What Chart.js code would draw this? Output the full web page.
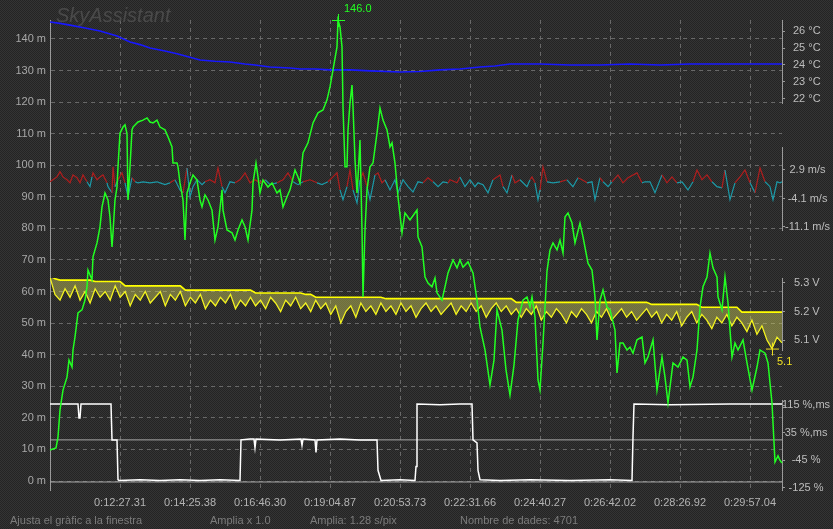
<!DOCTYPE html>
<html lang="ca">
<head>
<meta charset="utf-8">
<title>SkyAssistant</title>
<script src="https://cdn.jsdelivr.net/npm/chart.js@4.4.1/dist/chart.umd.min.js"></script>
<style>
  html, body { margin: 0; padding: 0; }
  body {
    width: 833px; height: 529px; overflow: hidden;
    background: repeating-conic-gradient(#343434 0 25%, #242424 0 50%) 0 0 / 2px 2px;
    font-family: 'Liberation Sans', Arial, sans-serif;
  }
  #marc { position: relative; width: 833px; height: 529px; }
  #grafica { position: absolute; left: 0; top: 0; }
  .marca { position: absolute; left: 56px; top: 5px; font-size: 20px; line-height: 20px; font-style: italic; color: #4a4a4a; }
  .estat { position: absolute; top: 514px; font-size: 11px; line-height: 13px; color: #7c7c7c; white-space: nowrap; }
</style>
</head>
<body>
<div id="marc">
  <canvas id="grafica" width="833" height="529"></canvas>
  <div class="marca">SkyAssistant</div>
  <div class="estat" style="left:10px">Ajusta el gràfic a la finestra</div>
  <div class="estat" style="left:210px">Amplia x 1.0</div>
  <div class="estat" style="left:310px">Amplia: 1.28 s/pix</div>
  <div class="estat" style="left:460px">Nombre de dades: 4701</div>
</div>
<script>
// 游댳 Eix X: columna de temps (0..732) i hores mostrades
const columnesHora = [70, 140, 210, 280, 350, 420, 490, 560, 630, 700];
const horaEtiquetes = ['0:12:27.31', '0:14:25.38', '0:16:46.30', '0:19:04.87', '0:20:53.73',
                       '0:22:31.66', '0:24:40.27', '0:26:42.02', '0:28:26.92', '0:29:57.04'];

// 游댳 Altitud (m) - verd
const altCols = [0, 6, 8, 10, 13, 17, 19, 22, 23, 25, 28, 32, 35, 37, 38, 42, 43, 47, 50, 52, 55, 58, 60, 62, 63, 65, 67, 68, 70, 73,
  75, 77, 78, 80, 82, 83, 88, 93, 97, 100, 103, 107, 110, 115, 118, 122, 123, 127, 128, 130, 133, 135, 137, 140, 143, 147, 150, 152, 155, 158,
  162, 165, 168, 172, 173, 177, 182, 185, 188, 192, 195, 198, 202, 203, 206, 208, 210, 213, 218, 222, 227, 230, 233, 237, 240, 245, 248, 250, 253, 258,
  263, 268, 273, 277, 280, 283, 287, 288, 290, 292, 293, 295, 297, 298, 300, 302, 303, 305, 307, 308, 310, 312, 313, 315, 317, 320, 323, 327, 330, 333,
  337, 340, 342, 345, 348, 352, 355, 360, 367, 368, 372, 375, 378, 382, 385, 387, 392, 395, 398, 403, 407, 410, 413, 418, 423, 427, 430, 435, 440, 444,
  447, 452, 456, 460, 464, 468, 473, 477, 480, 482, 485, 488, 490, 493, 497, 500, 503, 507, 510, 513, 515, 518, 522, 525, 530, 533, 538, 542, 545, 547,
  550, 553, 557, 560, 565, 567, 570, 573, 577, 580, 583, 587, 592, 595, 598, 603, 607, 612, 615, 618, 623, 628, 633, 637, 640, 643, 647, 650, 653, 657,
  660, 663, 667, 668, 672, 675, 678, 682, 685, 688, 693, 697, 702, 707, 710, 715, 718, 722, 725, 728, 730, 732];
const altM = [9.8, 10.5, 13.9, 22.5, 28.8, 32.9, 38.3, 36.1, 41.5, 45.6, 53.2, 54.2, 57.3, 61.5, 66.8, 63.7, 71.0, 75.4, 80.5, 86.8, 91.2, 89.0, 83.6, 74.1, 78.6, 89.0, 93.1, 99.5, 110.2, 112.1,
  112.8, 110.0, 89.0, 99.5, 111.2, 112.1, 113.7, 114.3, 115.0, 113.7, 113.4, 114.3, 112.1, 111.2, 109.0, 105.8, 100.7, 100.7, 99.5, 94.4, 89.0, 76.3, 91.2, 94.4, 96.9, 95.3, 89.0, 86.8, 90.6, 89.0,
  85.8, 76.3, 80.5, 92.2, 85.8, 79.5, 78.6, 76.3, 79.5, 82.7, 80.5, 76.3, 85.8, 94.4, 100.7, 96.3, 91.2, 95.3, 93.1, 94.4, 91.2, 92.2, 86.8, 90.0, 92.2, 98.5, 96.3, 94.4, 103.9, 107.1,
  113.4, 116.6, 117.5, 120.7, 124.8, 130.2, 137.5, 146.0, 143.8, 137.5, 118.5, 99.5, 99.5, 111.2, 119.7, 125.4, 118.5, 101.7, 91.2, 96.3, 108.0, 79.5, 58.3, 79.5, 92.2, 99.5, 100.7, 110.2, 118.1, 114.3,
  111.2, 105.8, 107.1, 100.7, 90.0, 78.6, 84.9, 82.7, 85.8, 77.3, 74.1, 64.6, 62.7, 61.5, 64.3, 59.6, 57.3, 61.5, 65.9, 70.0, 67.5, 70.0, 67.7, 69.4, 65.9, 57.3, 48.8, 41.5, 30.4, 38.3,
  54.2, 47.8, 35.2, 27.2, 36.7, 51.0, 57.3, 58.3, 55.1, 58.3, 51.9, 32.0, 28.8, 43.7, 66.5, 73.2, 75.4, 73.2, 76.3, 72.2, 83.6, 84.9, 81.7, 75.4, 81.7, 77.3, 69.0, 66.8, 58.3, 44.7,
  57.3, 60.5, 55.1, 54.2, 47.8, 34.2, 43.7, 43.7, 41.5, 42.4, 40.5, 44.7, 45.6, 37.4, 39.3, 44.7, 28.8, 39.3, 32.9, 24.7, 37.4, 36.1, 39.3, 38.3, 29.8, 32.9, 41.5, 55.1, 61.5, 64.6,
  72.2, 67.5, 64.6, 58.3, 54.2, 64.6, 56.4, 39.3, 43.7, 41.5, 44.7, 37.4, 28.8, 36.1, 41.5, 40.5, 37.4, 24.7, 6.0, 8.0, 6.5, 5.7];

// 游댳 Temperatura (춿C) - blau
const tempCols = [0, 10, 20, 35, 50, 67, 80, 90, 100, 115, 128, 140, 150, 165, 180, 195, 205, 220, 240, 250,
  265, 280, 300, 320, 350, 370, 390, 410, 430, 445, 460, 490, 520, 550, 580, 610, 640, 670, 700, 732];
const tempC = [26.53, 26.45, 26.35, 26.18, 26.0, 25.71, 25.35, 25.2, 25.0, 24.82, 24.65, 24.45, 24.29, 24.22, 24.18, 24.06, 24.0, 23.88, 23.82, 23.76,
  23.76, 23.71, 23.71, 23.65, 23.59, 23.62, 23.71, 23.76, 23.88, 23.94, 24.06, 24.06, 24.0, 24.0, 24.06, 24.0, 24.06, 24.06, 24.06, 24.06];

// 游댳 Vent vertical (m/s) - vermell / cian
const ventCols = [0, 7, 10, 13, 17, 20, 23, 27, 30, 33, 37, 40, 42, 43, 47, 50, 53, 57, 58, 62, 63, 65, 68, 72, 75, 78, 82, 85, 88, 93,
  100, 107, 110, 115, 120, 125, 130, 133, 137, 140, 143, 147, 152, 155, 160, 165, 168, 172, 175, 180, 185, 190, 195, 200, 205, 210, 215, 220, 227, 233,
  238, 243, 248, 253, 260, 267, 272, 278, 283, 287, 290, 293, 297, 300, 303, 307, 310, 313, 317, 320, 325, 328, 332, 335, 340, 345, 348, 353, 358, 363,
  368, 373, 378, 383, 388, 393, 398, 400, 407, 410, 415, 420, 425, 428, 433, 438, 443, 450, 453, 457, 462, 465, 470, 477, 480, 482, 485, 488, 490, 493,
  497, 503, 510, 517, 523, 528, 532, 537, 542, 545, 550, 553, 558, 562, 568, 573, 578, 587, 592, 595, 600, 605, 612, 617, 622, 627, 632, 638, 643, 647,
  652, 657, 662, 667, 672, 675, 680, 685, 690, 695, 700, 705, 710, 715, 720, 723, 727, 730, 732];
const ventMs = [0, 1.2, 2.5, 1.2, 0.5, -0.25, 1.7, 1.0, -0.25, 1.7, 0, -1.2, 1.2, 2.2, 0.5, 1.2, 1.7, -0.25, -1.2, -2.7, 3.7, -1.2, 0.5, 2.2, -0.25, -3.7, 1.0, 0, -0.25, 0,
  -0.25, 0, -0.25, -0.7, -0.25, 0.5, -2.0, -2.7, 3.4, -3.7, -1.2, 0.5, -0.7, 0, 0.5, -0.25, 3.4, -1.2, -2.7, 0, -0.25, 0.5, 2.2, -0.25, 0.5, -0.25, 0.5, -0.7, -0.25, 0.5,
  2.2, 0, -0.7, 0, 0.5, -0.25, -0.7, 0, 1.2, 2.2, -2.0, -4.4, -1.2, 2.9, -2.0, -5.2, 0.5, 2.2, -1.2, -4.4, 1.7, 2.2, -0.25, 0.5, -2.0, 0.5, -2.7, 0.5, -1.2, -2.5,
  0, -0.25, 1.0, 0, -1.2, 0, -0.25, 0.5, -0.25, 1.2, -1.2, 0.5, -1.2, -0.25, -0.7, -2.7, 0.5, 1.7, -1.2, -2.7, 1.7, -0.25, 0.5, -1.2, 0.5, 1.2, -0.25, -4.4, -2.0, 3.7,
  0, -0.25, 0, 0.5, -1.2, 1.0, 0.5, -0.25, 0, -4.4, 1.0, 0, -1.2, 0, 1.7, -0.25, 1.0, 2.2, -0.25, 0, 0, -2.7, 1.7, -0.25, 1.2, -0.25, 0, -2.0, 0, 2.9,
  0.5, 1.7, 0, -1.2, -1.5, 2.9, -4.4, -0.25, 1.2, 2.9, -0.25, -2.7, 3.4, 0, -1.2, -4.4, 0, -0.25, 0];

// 游댳 Tensi칩 (V) - groc: m맞im i m칤nim de cada tram
const voltMax = [5.325, 5.315, 5.31, 5.31, 5.31, 5.31, 5.31, 5.31, 5.31, 5.305, 5.305, 5.305, 5.305, 5.305, 5.305,
  5.29, 5.29, 5.29, 5.29, 5.29, 5.29, 5.29, 5.29, 5.29, 5.29, 5.29, 5.29,
  5.275, 5.275, 5.275, 5.275, 5.275, 5.275, 5.275, 5.275, 5.275, 5.275, 5.275, 5.275, 5.275, 5.275,
  5.265, 5.265, 5.265, 5.265, 5.265, 5.265, 5.265, 5.265, 5.265, 5.265, 5.26, 5.26,
  5.25, 5.25, 5.25, 5.25, 5.25, 5.25, 5.25, 5.25, 5.25, 5.25, 5.25, 5.25, 5.25, 5.25,
  5.245, 5.245, 5.245, 5.245, 5.245, 5.245, 5.245, 5.245, 5.245, 5.245, 5.245, 5.245, 5.245, 5.245, 5.245, 5.245, 5.245, 5.245, 5.245, 5.245, 5.245, 5.245, 5.245, 5.245, 5.245, 5.245,
  5.232, 5.232, 5.232, 5.232, 5.232, 5.232, 5.232, 5.232, 5.232, 5.232, 5.232, 5.232, 5.232, 5.232, 5.232, 5.232, 5.232, 5.232, 5.232, 5.232, 5.232, 5.232, 5.232, 5.232, 5.232, 5.232, 5.232,
  5.225, 5.225, 5.225, 5.225, 5.225, 5.225, 5.225, 5.225, 5.225, 5.225,
  5.215, 5.215, 5.215, 5.215, 5.215, 5.215, 5.215, 5.215,
  5.198, 5.198, 5.198, 5.198, 5.198, 5.198, 5.198, 5.198, 5.198];
const voltMin = [5.32, 5.26, 5.24, 5.28, 5.25, 5.29, 5.24, 5.27, 5.23, 5.28, 5.25, 5.27, 5.24, 5.29, 5.25,
  5.27, 5.22, 5.26, 5.24, 5.27, 5.23, 5.25, 5.27, 5.22, 5.26, 5.24, 5.27,
  5.22, 5.25, 5.23, 5.26, 5.21, 5.24, 5.22, 5.25, 5.23, 5.26, 5.21, 5.24, 5.22, 5.25,
  5.22, 5.24, 5.21, 5.25, 5.23, 5.20, 5.24, 5.22, 5.25, 5.21, 5.23, 5.20,
  5.24, 5.21, 5.23, 5.19, 5.22, 5.16, 5.20, 5.22, 5.18, 5.23, 5.20, 5.22, 5.19, 5.23,
  5.20, 5.22, 5.19, 5.23, 5.20, 5.22, 5.18, 5.21, 5.23, 5.20, 5.22, 5.19, 5.21, 5.23, 5.19, 5.22, 5.20, 5.23, 5.20, 5.22, 5.18, 5.21, 5.23, 5.20, 5.22, 5.19,
  5.21, 5.18, 5.21, 5.19, 5.22, 5.17, 5.20, 5.18, 5.21, 5.19, 5.16, 5.20, 5.18, 5.21, 5.19, 5.16, 5.20, 5.18, 5.21, 5.17, 5.19, 5.21, 5.18, 5.20, 5.17, 5.19, 5.21,
  5.18, 5.20, 5.16, 5.19, 5.17, 5.20, 5.15, 5.18, 5.20, 5.16,
  5.19, 5.17, 5.14, 5.18, 5.16, 5.19, 5.15, 5.18,
  5.16, 5.13, 5.17, 5.12, 5.15, 5.10, 5.07, 5.11, 5.09];

// 游댳 Gas / servo (%) - blanc
const gasCols = [0, 28, 29, 30, 31, 61, 62, 67, 68, 69, 90, 110, 130, 150, 170, 190, 191, 200, 204, 205, 206, 230, 251, 252, 253, 265, 266, 267, 290, 310,
  327, 328, 331, 350, 365, 366, 367, 390, 410, 422, 423, 427, 428, 430, 450, 480, 520, 560, 582, 583, 584, 620, 680, 732];
const gasPct = [100, 100, 82, 82, 100, 100, 54, 54, 3, 2, 3, 2, 3, 2, 3, 2, 54, 55, 55, 44, 55, 54, 55, 47, 55, 54, 38, 54, 55, 54,
  54, 15, 2, 3, 2, 20, 100, 99, 100, 100, 54, 50, 15, 3, 2, 3, 2, 3, 2, 58, 100, 99, 100, 100];
const gasLimits = [54, 0];

// 游댳 Marques dels eixos de la dreta
const tempTicks = [22, 23, 24, 25, 26];
const ventTicks = [2.9, -4.1, -11.1];
const voltTicks = [5.3, 5.2, 5.1];
const pctTicks = [115, 35, -45, -125];
const pctEtiquetes = ['115 %,ms', '35 %,ms', '-45 %', '-125 %'];
const altTicks = [0, 10, 20, 30, 40, 50, 60, 70, 80, 90, 100, 110, 120, 130, 140];

const punts = (xs, ys) => xs.map((x, i) => ({ x: x, y: ys[i] }));
const voltCols = voltMax.map((v, i) => i * 732 / (voltMax.length - 1));

Chart.defaults.font.family = "'Liberation Sans', Arial, sans-serif";
Chart.defaults.font.size = 11;

// 游댳 Creu i valor al m맞im d'altitud i al m칤nim de tensi칩
function creu(c, x, y, color) {
  c.strokeStyle = color;
  c.lineWidth = 1;
  c.beginPath();
  c.moveTo(x - 6, y + 0.5); c.lineTo(x + 7, y + 0.5);
  c.moveTo(x + 0.5, y - 6); c.lineTo(x + 0.5, y + 7);
  c.stroke();
}
const marcadors = {
  id: 'marcadors',
  afterDatasetsDraw(chart) {
    const c = chart.ctx;
    c.save();
    c.font = "11px 'Liberation Sans', Arial, sans-serif";
    c.textAlign = 'left';
    c.textBaseline = 'middle';
    const iMax = altM.indexOf(Math.max(...altM));
    const pA = chart.getDatasetMeta(0).data[iMax];
    creu(c, pA.x, pA.y, '#22ff22');
    c.fillStyle = '#22ff22';
    c.fillText(altM[iMax].toFixed(1), pA.x + 6, pA.y - 11);
    const iMin = voltMin.indexOf(Math.min(...voltMin));
    const pV = chart.getDatasetMeta(5).data[iMin];
    creu(c, pV.x, pV.y, '#f0e020');
    c.fillStyle = '#f0e020';
    c.fillText(voltMin[iMin].toFixed(1), pV.x + 5, pV.y + 13);
    c.restore();
  }
};

function eixDret(pes, min, max, valors, etiqueta, padding) {
  return {
    type: 'linear', position: 'right', stack: 'dreta', stackWeight: pes, min: min, max: max,
    afterBuildTicks: s => { s.ticks = valors.map(v => ({ value: v })); },
    afterFit: s => { s.width = 51; },
    ticks: { color: '#bdbdbd', padding: padding, crossAlign: 'center', autoSkip: false,
             callback: (v, i) => etiqueta(v, i) },
    grid: { drawOnChartArea: false, drawTicks: true, tickLength: 3, color: '#9a9a9a' },
    border: { color: '#9a9a9a' }
  };
}
function espai(pes) {
  return {
    type: 'linear', position: 'right', stack: 'dreta', stackWeight: pes,
    ticks: { display: false }, grid: { display: false, drawTicks: false }, border: { display: false }
  };
}

const linia = { pointRadius: 0, tension: 0, fill: false };

const ctx = document.getElementById('grafica').getContext('2d');
const grafica = new Chart(ctx, {
  type: 'line',
  data: {
    datasets: [
      { ...linia, label: 'Altitud', data: punts(altCols, altM), yAxisID: 'yAlt', borderColor: '#22ff22', borderWidth: 1.5, clip: 4 },
      { ...linia, label: 'Gas', data: punts(gasCols, gasPct), yAxisID: 'yGas', borderColor: '#ffffff', borderWidth: 1.5 },
      ...gasLimits.map(v => ({ ...linia, label: 'L' + v, data: [{ x: 0, y: v }, { x: 732, y: v }], yAxisID: 'yGas', borderColor: '#a8a8a8', borderWidth: 1 })),
      { ...linia, label: 'Vmax', data: punts(voltCols, voltMax), yAxisID: 'yVolt', borderColor: '#ffff00', borderWidth: 1.6,
        fill: '+1', backgroundColor: 'rgba(205,205,90,0.45)' },
      { ...linia, label: 'Vmin', data: punts(voltCols, voltMin), yAxisID: 'yVolt', borderColor: '#ffff10', borderWidth: 1.3 },
      { ...linia, label: 'Vent', data: punts(ventCols, ventMs), yAxisID: 'yVent', borderWidth: 1.2, borderColor: '#1c9aa8',
        segment: { borderColor: s => (s.p0.parsed.y + s.p1.parsed.y) / 2 > 0 ? '#b01e1e' : '#1c9aa8' } },
      { ...linia, label: 'Temp', data: punts(tempCols, tempC), yAxisID: 'yTemp', borderColor: '#1818ff', borderWidth: 1.6 }
    ]
  },
  options: {
    responsive: false,
    animation: false,
    events: [],
    layout: { padding: { top: 20, bottom: 19, left: 0, right: 0 } },
    plugins: { legend: { display: false }, tooltip: { enabled: false } },
    scales: {
      x: {
        type: 'linear', min: 0, max: 732,
        afterBuildTicks: s => { s.ticks = columnesHora.map(v => ({ value: v })); },
        afterFit: s => { s.height = 20; },
        ticks: { color: '#b4b4b4', padding: 6, maxRotation: 0, autoSkip: false, callback: (v, i) => horaEtiquetes[i] },
        grid: { color: '#686868', drawTicks: false },
        border: { display: false, dash: [4, 4] }
      },
      yAlt: {
        type: 'linear', position: 'left', min: -2.85, max: 146,
        afterBuildTicks: s => { s.ticks = altTicks.map(v => ({ value: v })); },
        afterFit: s => { s.width = 50; },
        ticks: { color: '#a8a8a8', padding: 4, autoSkip: false, callback: v => v + ' m' },
        grid: { color: '#686868', drawTicks: false },
        border: { color: '#9a9a9a', dash: [4, 4] }
      },
      yGas: { type: 'linear', position: 'left', display: false, min: -10.26, max: 592.3 },
      yTemp: eixDret(83, 21.76, 26.65, tempTicks, v => v + ' °C', 8),
      esp1: espai(44),
      yVent: eixDret(83, -11.84, 8.55, ventTicks, v => v.toFixed(1) + ' m/s', 0),
      esp2: espai(48),
      yVolt: eixDret(72, 5.065, 5.3175, voltTicks, v => v.toFixed(1) + ' V', 9),
      esp3: espai(50),
      yPct: eixDret(90, -130.8, 129.5, pctTicks, (v, i) => pctEtiquetes[i], -3)
    }
  },
  plugins: [marcadors]
});
</script>
</body>
</html>
